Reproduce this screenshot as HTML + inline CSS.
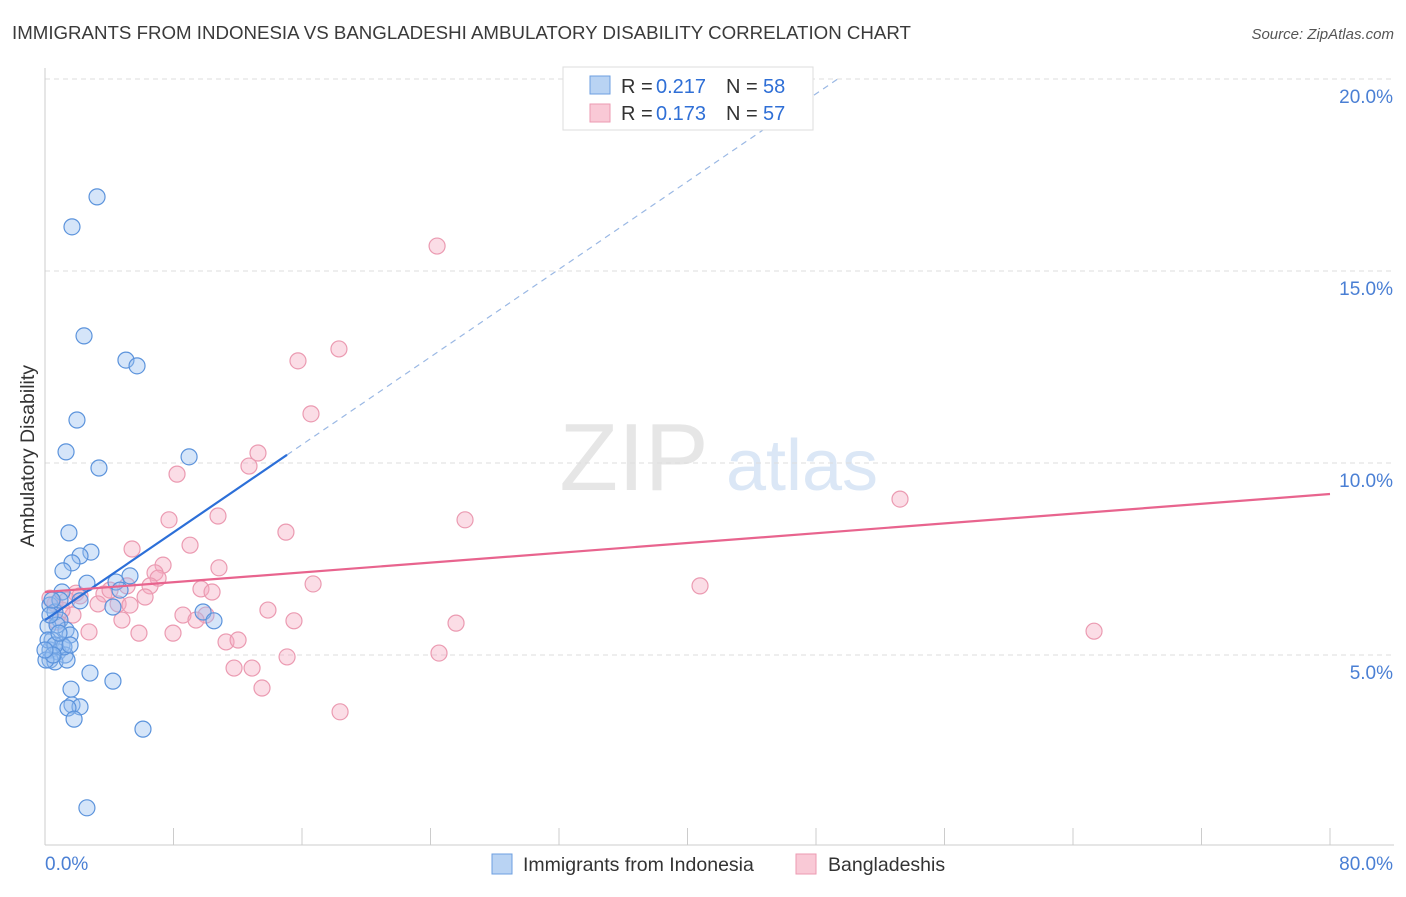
<!DOCTYPE html>
<html><head><meta charset="utf-8"><style>
body{margin:0;background:#fff;font-family:"Liberation Sans",sans-serif}
svg text{font-family:"Liberation Sans",sans-serif}
</style></head><body>
<svg id="c" width="1406" height="892" xmlns="http://www.w3.org/2000/svg">
<text x="12" y="39" font-size="18.7" fill="#3a3a3a">IMMIGRANTS FROM INDONESIA VS BANGLADESHI AMBULATORY DISABILITY CORRELATION CHART</text>
<text x="1394" y="39" font-size="15" fill="#555" font-style="italic" text-anchor="end">Source: ZipAtlas.com</text>
<text x="634" y="490" font-size="96" fill="#e6e6e6" font-family="Liberation Serif" text-anchor="middle">ZIP</text>
<text x="802" y="490" font-size="72" fill="#dbe7f6" text-anchor="middle">atlas</text>
<g id="grid"></g><g id="axes"></g><g id="pts"></g><g id="trend"></g>
<text transform="translate(34,456) rotate(-90)" font-size="19.5" fill="#333" text-anchor="middle">Ambulatory Disability</text>
<g>
<rect x="563" y="67" width="250" height="63" fill="#fff" stroke="#ddd"/>
<rect x="590" y="76" width="20" height="18" fill="#b9d3f3" stroke="#6d9fe0"/>
<rect x="590" y="104" width="20" height="18" fill="#f9c9d6" stroke="#ec9ab2"/>
<text x="621" y="93" font-size="20" fill="#333">R =</text>
<text x="656" y="93" font-size="20" fill="#2f6fd6">0.217</text>
<text x="726" y="93" font-size="20" fill="#333">N =</text>
<text x="763" y="93" font-size="20" fill="#2f6fd6">58</text>
<text x="621" y="120" font-size="20" fill="#333">R =</text>
<text x="656" y="120" font-size="20" fill="#2f6fd6">0.173</text>
<text x="726" y="120" font-size="20" fill="#333">N =</text>
<text x="763" y="120" font-size="20" fill="#2f6fd6">57</text>
</g>
<g>
<rect x="492" y="854" width="20" height="20" fill="#b9d3f3" stroke="#6d9fe0"/>
<text x="523" y="871" font-size="19.5" fill="#333">Immigrants from Indonesia</text>
<rect x="796" y="854" width="20" height="20" fill="#f9c9d6" stroke="#ec9ab2"/>
<text x="828" y="871" font-size="19.5" fill="#333">Bangladeshis</text>
</g>
</svg>
<script>
const xTicks=[0,8,16,24,32,40,48,56,64,72,80];
const yTicks=[5,10,15,20];
const blueX=[3.24,1.68,2.43,5.04,5.73,1.99,1.31,3.36,8.97,1.49,2.86,2.18,1.68,1.12,5.29,2.61,4.42,4.67,1.06,2.18,4.23,9.84,10.52,0.31,0.62,0.93,0.19,1.31,1.56,0.44,1.06,0.31,0.81,1.25,0.31,0.62,1.37,1.62,2.80,4.23,1.68,2.18,1.43,1.81,6.10,2.61,0.75,0.93,0.19,1.18,0.06,0.62,1.56,0.31,0.87,0.44,0.50,0.0];
const blueY=[16.93,16.15,13.31,12.68,12.53,11.12,10.29,9.87,10.16,8.18,7.68,7.58,7.40,7.19,7.06,6.87,6.90,6.69,6.64,6.41,6.25,6.12,5.89,6.30,6.12,5.91,5.75,5.65,5.52,5.39,5.26,5.13,5.08,5.00,4.87,4.82,4.87,4.11,4.53,4.32,3.70,3.65,3.62,3.33,3.07,1.02,5.78,6.43,5.39,5.21,4.87,5.26,5.26,6.04,5.57,6.43,5.00,5.13];
const pinkX=[24.41,15.75,18.30,16.56,13.26,12.70,8.22,53.23,26.15,7.72,10.77,15.00,5.42,9.03,7.35,10.83,6.85,7.04,40.78,16.69,6.54,6.23,3.67,5.11,9.71,10.40,1.93,0.62,3.30,4.55,1.74,4.79,8.59,10.02,9.40,13.88,15.50,25.59,65.31,2.74,5.85,7.97,11.27,12.02,15.07,24.53,11.77,12.89,13.51,18.37,1.06,2.18,4.05,0.75,0.31,1.37,5.29];
const pinkY=[15.65,12.66,12.97,11.28,10.26,9.92,9.71,9.06,8.52,8.52,8.62,8.20,7.76,7.86,7.34,7.27,7.14,7.00,6.80,6.85,6.80,6.51,6.59,6.80,6.72,6.64,6.61,6.33,6.33,6.33,6.04,5.91,6.04,6.04,5.91,6.17,5.89,5.83,5.62,5.60,5.57,5.57,5.34,5.39,4.95,5.05,4.66,4.66,4.14,3.52,6.17,6.54,6.69,5.86,6.48,6.43,6.30];
const blueTrend=[5.91,0.2855];
const pinkTrend=[6.64,0.0319];
const NS="http://www.w3.org/2000/svg";
const sx=v=>45+v/80*1285, sy=v=>847-v/5*192;
function mk(p,t,a){const e=document.createElementNS(NS,t);for(const k in a)e.setAttribute(k,a[k]);document.getElementById(p).appendChild(e);return e;}
yTicks.forEach(t=>{
 const g=mk('grid','line',{x1:45,x2:1394,y1:sy(t),y2:sy(t),stroke:'#ddd','stroke-dasharray':'5,4'});
 
 
 const l=mk('axes','text',{x:1393,y:sy(t)+24,'font-size':19,fill:'#4a7fd4','text-anchor':'end'});
 l.textContent=t.toFixed(1)+'%';
 
 
});
const ax=mk('axes','line',{x1:45,x2:1394,y1:845,y2:845,stroke:'#ccc'});


const ay=mk('axes','line',{x1:45,x2:45,y1:68,y2:845,stroke:'#ccc'});


xTicks.forEach(t=>{
 const k=mk('axes','line',{x1:sx(t),x2:sx(t),y1:828,y2:845,stroke:'#ccc'});
 
 
});
[[0,'0.0%',45,'start'],[80,'80.0%',1393,'end']].forEach(d=>{
 const l=mk('axes','text',{x:d[2],y:870,'font-size':19,fill:'#4a7fd4','text-anchor':d[3]});
 l.textContent=d[1];
 
 
});
pinkX.forEach((x,i)=>{
 const c=mk('pts','circle',{cx:sx(x),cy:sy(pinkY[i]),r:8,fill:'rgba(246,170,192,0.4)',stroke:'#eb9ab1','stroke-width':1.2});
 
 
});
blueX.forEach((x,i)=>{
 const c=mk('pts','circle',{cx:sx(x),cy:sy(blueY[i]),r:8,fill:'rgba(150,190,240,0.4)',stroke:'#5b93dc','stroke-width':1.2});
 
 
});
const bx1=15.07, bxe=(20.05-blueTrend[0])/blueTrend[1];
const bl=mk('trend','line',{x1:sx(0),y1:sy(blueTrend[0]),x2:sx(bx1),y2:sy(blueTrend[0]+blueTrend[1]*bx1),stroke:'#2c6fd8','stroke-width':2.2});


const bd=mk('trend','line',{x1:sx(bx1),y1:sy(blueTrend[0]+blueTrend[1]*bx1),x2:sx(bxe),y2:sy(20.05),stroke:'#9ab8e4','stroke-width':1.2,'stroke-dasharray':'6,5'});


const pl=mk('trend','line',{x1:sx(0),y1:sy(pinkTrend[0]),x2:sx(80),y2:sy(pinkTrend[0]+pinkTrend[1]*80),stroke:'#e8648e','stroke-width':2.2});


</script>
</body></html>
